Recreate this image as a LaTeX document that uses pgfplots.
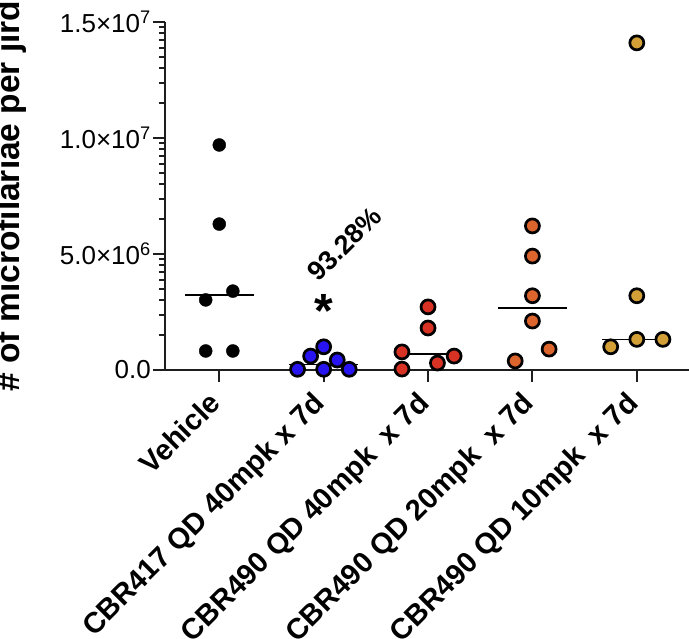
\documentclass[border=0pt]{standalone}
\usepackage{fontspec}
\setmainfont{Liberation Sans}
\usepackage{pgfplots}
\pgfplotsset{compat=1.18}
\definecolor{cblue}{RGB}{40,20,240}
\definecolor{cred}{RGB}{215,50,35}
\definecolor{corange}{RGB}{220,100,45}
\definecolor{cgold}{RGB}{210,160,55}
\definecolor{axc}{RGB}{30,30,30}
\begin{document}
\begin{tikzpicture}
\begin{axis}[
  scale only axis, width=524pt, height=348pt,
  xmin=-0.52, xmax=4.5, ymin=0, ymax=1.5e7,
  axis x line*=bottom, axis y line*=left,
  axis line style={line width=2pt, axc},
  every tick/.style={line width=2pt, axc},
  tick align=outside,
  major tick length=12pt, minor tick length=6pt,
  xtick={0,1,2,3,4},
  xticklabels={Vehicle, CBR417 QD 40mpk x 7d, CBR490 QD 40mpk\ \ x 7d, CBR490 QD 20mpk\ \ x 7d, CBR490 QD 10mpk\ \ x 7d},
  xticklabel style={xshift=-12pt, yshift=-5pt, rotate=45, anchor=north east, font=\fontsize{29}{34}\selectfont\bfseries, inner sep=2pt},
  ytick={0,5e6,1e7,1.5e7},
  yticklabels={0.0, 5.0×10\textsuperscript{6}, 1.0×10\textsuperscript{7}, 1.5×10\textsuperscript{7}},
  minor ytick={1505000,2386000,3010000,3495000,3891000,4226000,4515000,4771000,
               6505000,7386000,8010000,8495000,8891000,9226000,9515000,9771000,
               11505000,12386000,13010000,13495000,13891000,14226000,14515000,14771000},
  yticklabel style={font=\fontsize{26}{30}\selectfont, inner sep=2pt},
  scaled y ticks=false,
  clip=false,
]
% Vehicle
\addplot[only marks, mark=*, mark size=6.5pt, mark options={fill=black, draw=black, line width=0.4pt}] table {
x y
0 9700000
0 6290000
-0.13 3020000
0.13 3400000
-0.13 820000
0.13 820000
};
% CBR417 40mpk
\addplot[only marks, mark=*, mark size=7pt, mark options={fill=cblue, draw=black, line width=2.7pt}] table {
x y
0.75 30000
0.875 600000
1.0 1000000
1.0 30000
1.13 430000
1.245 30000
};
% CBR490 40mpk
\addplot[only marks, mark=*, mark size=7pt, mark options={fill=cred, draw=black, line width=2.7pt}] table {
x y
2.0 2720000
2.0 1810000
1.75 780000
1.75 40000
2.09 300000
2.25 600000
};
% CBR490 20mpk
\addplot[only marks, mark=*, mark size=7pt, mark options={fill=corange, draw=black, line width=2.7pt}] table {
x y
3 6210000
3 4910000
3 3200000
3 2110000
2.835 390000
3.16 900000
};
% CBR490 10mpk
\addplot[only marks, mark=*, mark size=7pt, mark options={fill=cgold, draw=black, line width=2.7pt}] table {
x y
4 14100000
4 3200000
4 1320000
4.25 1320000
3.75 1000000
};
% medians
\addplot[black, line width=1.6pt] coordinates {(-0.33,3220000) (0.33,3220000)};
\addplot[black, line width=1.6pt] coordinates {(0.67,240000) (1.33,240000)};
\addplot[black, line width=1.6pt] coordinates {(1.67,700000) (2.33,700000)};
\addplot[black, line width=1.6pt] coordinates {(2.67,2660000) (3.33,2660000)};
\addplot[black, line width=1.6pt] coordinates {(3.67,1310000) (4.33,1310000)};
\node[rotate=45, font=\fontsize{27}{32}\selectfont\bfseries] at (axis cs:1.2,5430000) {93.28\%};
\node[anchor=base, inner sep=0pt, font=\fontsize{48}{50}\selectfont\bfseries] at (axis cs:1,1850000) {*};
\coordinate (o) at (rel axis cs:0,0);
\coordinate (t) at (rel axis cs:1,1);
\coordinate (lm) at (rel axis cs:0,0.5);
\end{axis}
\node[rotate=90, anchor=south, inner sep=0pt, font=\fontsize{33.5}{38}\selectfont\bfseries] at ([xshift=-138pt]lm) {\# of microfilariae per jird};
\pgfresetboundingbox
\path[use as bounding box] ([xshift=-165pt,yshift=-269pt]o) rectangle ([yshift=22pt]t);
\end{tikzpicture}
\end{document}
